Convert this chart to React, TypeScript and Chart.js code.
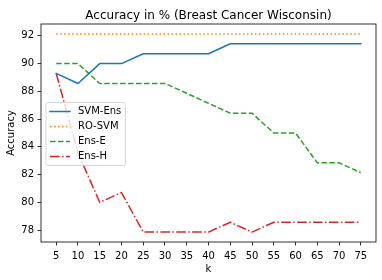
import { useEffect, useRef } from "react";
import { Chart, registerables } from "chart.js";

Chart.register(...registerables);

const chartTitle = "Accuracy in % (Breast Cancer Wisconsin)";
const xLabel = "k";
const yLabel = "Accuracy";

const kValues = [5, 10, 15, 20, 25, 30, 35, 40, 45, 50, 55, 60, 65, 70, 75];
const xTicks = [5, 10, 15, 20, 25, 30, 35, 40, 45, 50, 55, 60, 65, 70, 75];
const yTicks = [78, 80, 82, 84, 86, 88, 90, 92];

const seriesNames = ["SVM-Ens", "RO-SVM", "Ens-E", "Ens-H"];
const svmEns = [89.29, 88.57, 90.0, 90.0, 90.71, 90.71, 90.71, 90.71, 91.43, 91.43, 91.43, 91.43, 91.43, 91.43, 91.43];
const roSvm = [92.14, 92.14, 92.14, 92.14, 92.14, 92.14, 92.14, 92.14, 92.14, 92.14, 92.14, 92.14, 92.14, 92.14, 92.14];
const ensE = [90.0, 90.0, 88.57, 88.57, 88.57, 88.57, 87.86, 87.14, 86.43, 86.43, 85.0, 85.0, 82.86, 82.86, 82.14];
const ensH = [89.29, 83.57, 80.0, 80.71, 77.86, 77.86, 77.86, 77.86, 78.57, 77.86, 78.57, 78.57, 78.57, 78.57, 78.57];

const colors = ["#1f77b4", "#ff7f0e", "#2ca02c", "#d62728"];
const dashes: number[][] = [[], [1.5, 2.475], [5.55, 2.4], [9.6, 2.4, 1.5, 2.4]];

const FONT = '"DejaVu Sans", sans-serif';

export default function App() {
  const ref = useRef<HTMLCanvasElement | null>(null);

  useEffect(() => {
    if (!ref.current) return;
    const all = [svmEns, roSvm, ensE, ensH];
    const flat = all.flat();
    const yMinD = Math.min(...flat);
    const yMaxD = Math.max(...flat);
    const yM = (yMaxD - yMinD) * 0.05;
    const xMinD = Math.min(...kValues);
    const xMaxD = Math.max(...kValues);
    const xM = (xMaxD - xMinD) * 0.05;

    const datasets = all.map((vals, i) => ({
      label: seriesNames[i],
      data: kValues.map((k, j) => ({ x: k, y: vals[j] })),
      borderColor: colors[i],
      backgroundColor: colors[i],
      borderWidth: 1.5,
      borderDash: dashes[i],
      borderCapStyle: (i === 0 ? "square" : "butt") as CanvasLineCap,
      borderJoinStyle: "round" as CanvasLineJoin,
      pointRadius: 0,
      tension: 0,
      fill: false,
    }));

    const framePlugin = {
      id: "frame",
      afterDatasetsDraw(chart: any) {
        const { ctx, chartArea: a } = chart;
        ctx.save();
        ctx.strokeStyle = "#000";
        ctx.lineWidth = 0.8;
        ctx.setLineDash([]);
        ctx.strokeRect(a.left, a.top, a.right - a.left, a.bottom - a.top);
        ctx.restore();
      },
      afterDraw(chart: any) {
        const { ctx, chartArea: a } = chart;
        ctx.save();
        // title
        ctx.font = `12px ${FONT}`;
        ctx.fillStyle = "#000";
        ctx.textAlign = "center";
        ctx.textBaseline = "alphabetic";
        ctx.fillText(chartTitle, (a.left + a.right) / 2, a.top - 5.5);
        // legend
        ctx.font = `10px ${FONT}`;
        const ds = chart.data.datasets;
        const maxW = Math.max(...ds.map((d: any) => ctx.measureText(d.label).width));
        const pad = 4, handle = 20, gap = 8, rowH = 15;
        const w = pad + handle + gap + maxW + pad;
        const h = pad * 2 + ds.length * 10 + (ds.length - 1) * 5;
        const x0 = a.left + 5;
        const y0 = (a.top + a.bottom) / 2 - h / 2 + 1;
        ctx.beginPath();
        (ctx as any).roundRect(x0, y0, w, h, 2);
        ctx.fillStyle = "rgba(255,255,255,0.8)";
        ctx.fill();
        ctx.strokeStyle = "rgba(204,204,204,0.8)";
        ctx.lineWidth = 1;
        ctx.stroke();
        ds.forEach((d: any, i: number) => {
          const cy = y0 + pad + 5 + i * rowH;
          ctx.beginPath();
          ctx.setLineDash(d.borderDash || []);
          ctx.lineCap = d.borderCapStyle;
          ctx.strokeStyle = d.borderColor;
          ctx.lineWidth = d.borderWidth;
          ctx.moveTo(x0 + pad, cy);
          ctx.lineTo(x0 + pad + handle, cy);
          ctx.stroke();
          ctx.setLineDash([]);
          ctx.fillStyle = "#000";
          ctx.textAlign = "left";
          ctx.textBaseline = "middle";
          ctx.fillText(d.label, x0 + pad + handle + gap, cy);
        });
        ctx.restore();
      },
    };

    const tickFont = { family: FONT, size: 10 };

    const chart = new Chart(ref.current, {
      type: "line",
      data: { datasets },
      options: {
        animation: false,
        responsive: false,
        devicePixelRatio: 1,
        layout: { padding: { top: 24, right: 6, left: 0, bottom: 0 } },
        plugins: { legend: { display: false }, title: { display: false }, tooltip: { enabled: false } },
        scales: {
          x: {
            type: "linear",
            position: "bottom",
            min: xMinD - xM,
            max: xMaxD + xM,
            afterBuildTicks: (s: any) => {
              s.ticks = xTicks.map((value) => ({ value }));
            },
            afterFit: (s: any) => {
              s.height = 38;
            },
            grid: { display: true, drawOnChartArea: false, drawTicks: true, tickLength: 3.5, color: "#000", lineWidth: 0.8 },
            border: { display: false },
            ticks: { font: tickFont, color: "#000", padding: 5, maxRotation: 0, autoSkip: false, callback: (v: any) => String(v) },
            title: { display: true, text: xLabel, font: tickFont, color: "#000", padding: { top: 0, bottom: 5 } },
          },
          y: {
            type: "linear",
            min: yMinD - yM,
            max: yMaxD + yM,
            afterBuildTicks: (s: any) => {
              s.ticks = yTicks.map((value) => ({ value }));
            },
            afterFit: (s: any) => {
              s.width = 41;
            },
            grid: { display: true, drawOnChartArea: false, drawTicks: true, tickLength: 3.5, color: "#000", lineWidth: 0.8 },
            border: { display: false },
            ticks: { font: tickFont, color: "#000", padding: 3.5, autoSkip: false, callback: (v: any) => String(v) },
            title: { display: true, text: yLabel, font: tickFont, color: "#000", padding: { top: 5.5, bottom: 0 } },
          },
        },
      },
      plugins: [framePlugin],
    } as any);

    return () => chart.destroy();
  }, []);

  return (
    <div style={{ position: "fixed", left: 0, top: 0, width: 382, height: 280, background: "#fff" }}>
      <canvas ref={ref} width={382} height={280} style={{ width: 382, height: 280, display: "block" }} />
    </div>
  );
}
